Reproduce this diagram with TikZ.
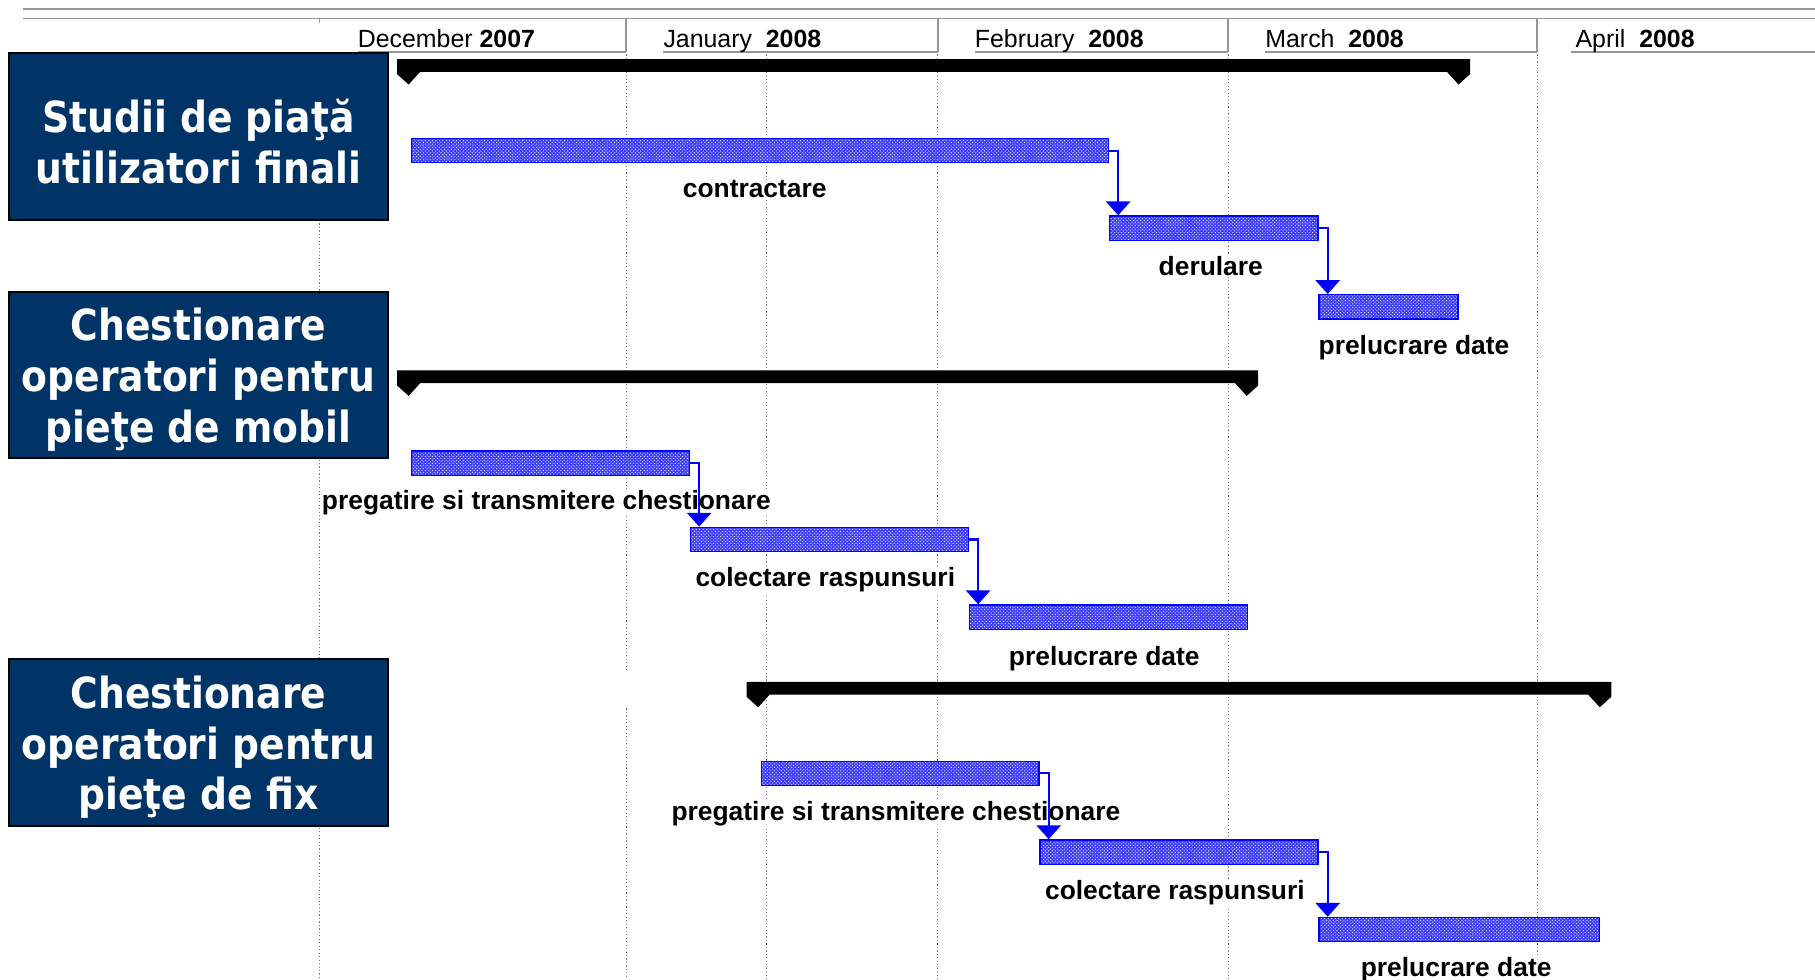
\documentclass[tikz,border=0pt]{standalone}
\usepackage{fontspec}
\setmainfont{Liberation Sans}
\newfontfamily\boxfont[FakeStretch=0.88]{DejaVu Sans}
\usetikzlibrary{arrows.meta,patterns}
\definecolor{navy}{RGB}{0,51,102}
\definecolor{hdrgray}{RGB}{150,150,150}
\definecolor{gridgray}{RGB}{120,120,120}
\definecolor{barblue}{RGB}{60,60,255}
\newcommand\sumbar[3]{%
  \fill[black] (#1,#3) -- (#2,#3) -- (#2,#3+13) -- (#2-10,#3+22) -- (#2-20,#3+11)
    -- (#1+20,#3+11) -- (#1+10,#3+22) -- (#1,#3+13) -- cycle;}
\begin{document}
\begin{tikzpicture}[x=1pt,y=-1pt,
  hdr/.style={draw=hdrgray, line width=1.6},
  gridline/.style={draw=gridgray, line width=1, dash pattern=on 1pt off 2pt},
  month/.style={anchor=base west, inner sep=0, font=\fontsize{21.5}{24}\selectfont},
  task/.style={draw=blue, line width=1.2, preaction={fill=barblue}, pattern=crosshatch dots,
    pattern color=white, minimum height=21, inner sep=0, anchor=north west},
  lbl/.style={anchor=base, fill=white, inner sep=1pt, font=\bfseries\fontsize{22.8}{26}\selectfont},
  link/.style={draw=blue, line width=1.8, -{Triangle[width=21pt,length=12pt]}},
  catbox/.style={draw=black, line width=1.6, fill=navy,
    minimum width=327, minimum height=144, inner sep=0},
  cattext/.style={text=white, align=center, inner sep=0,
    font=\boxfont\bfseries\fontsize{37}{44}\selectfont}
]
\useasboundingbox (0,0) rectangle (1568,846);

% header
\draw[hdr] (20,8) -- (1568,8);
\draw[hdr] (20,16) -- (1568,16);
\foreach \x in {541,810,1061,1328} \draw[hdr] (\x,16) -- (\x,45);
\draw[hdr] (276,16) -- (276,20);
\draw[hdr] (309,45) -- (541,45);
\draw[hdr] (573,45) -- (810,45);
\draw[hdr] (842,45) -- (1061,45);
\draw[hdr] (1093,45) -- (1328,45);
\draw[hdr] (1357,45) -- (1568,45);
\node[month] (m1) at (309,41) {December \textbf{2007}};
\node[month] (m2) at (573,41) {January\ \ \textbf{2008}};
\node[month] (m3) at (842,41) {February\ \ \textbf{2008}};
\node[month] (m4) at (1093,41) {March\ \ \textbf{2008}};
\node[month] (m5) at (1361,41) {April\ \ \textbf{2008}};

% grid lines
\draw[gridline] (276,190) -- (276,846);
\draw[gridline] (541,47) -- (541,580);
\draw[gridline] (541,612) -- (541,846);
\foreach \x in {662,810,1061,1328} \draw[gridline] (\x,47) -- (\x,846);

% summary bars
\sumbar{343}{1270}{51}
\sumbar{343}{1087}{320}
\sumbar{645}{1392}{589}

% group 1 tasks
\node[task, minimum width=602] (a1) at (355,119) {};
\node[task, minimum width=180] (a2) at (958,186) {};
\node[task, minimum width=120] (a3) at (1139,254) {};
% group 2 tasks
\node[task, minimum width=240] (b1) at (355,389) {};
\node[task, minimum width=240] (b2) at (596,455) {};
\node[task, minimum width=240] (b3) at (837,522) {};
% group 3 tasks
\node[task, minimum width=240] (c1) at (657,657) {};
\node[task, minimum width=240] (c2) at (898,725) {};
\node[task, minimum width=242] (c3) at (1139,792) {};

% labels
\node[lbl] (la1) at (652,171) {contractare};
\node[lbl] (la2) at (1046,238) {derulare};
\node[lbl, anchor=base west] (la3) at (1138,306) {prelucrare date};
\node[lbl] (lb1) at (472,440) {pregatire si transmitere chestionare};
\node[lbl] (lb2) at (713,507) {colectare raspunsuri};
\node[lbl] (lb3) at (954,575) {prelucrare date};
\node[lbl] (lc1) at (774,709) {pregatire si transmitere chestionare};
\node[lbl] (lc2) at (1015,777) {colectare raspunsuri};
\node[lbl] (lc3) at (1258,844) {prelucrare date};

% links
\draw[link] (a1.east) -| ([xshift=8]a2.north west);
\draw[link] (a2.east) -| ([xshift=8]a3.north west);
\draw[link] (b1.east) -| ([xshift=8]b2.north west);
\draw[link] (b2.east) -| ([xshift=8]b3.north west);
\draw[link] (c1.east) -| ([xshift=8]c2.north west);
\draw[link] (c2.east) -| ([xshift=8]c3.north west);

% category boxes
\node[catbox] (k1) at (171.5,118) {};
\node[catbox] (k2) at (171.5,324) {};
\node[catbox] (k3) at (171.5,641.5) {};
\node[cattext] (k1t) at ([yshift=-4]k1.center) {Studii de piaţă\\utilizatori finali};
\node[cattext] (k2t) at ([yshift=-4]k2.center) {Chestionare\\operatori pentru\\pieţe de mobil};
\node[cattext] (k3t) at ([yshift=-4]k3.center) {Chestionare\\operatori pentru\\pieţe de fix};
\end{tikzpicture}
\end{document}
